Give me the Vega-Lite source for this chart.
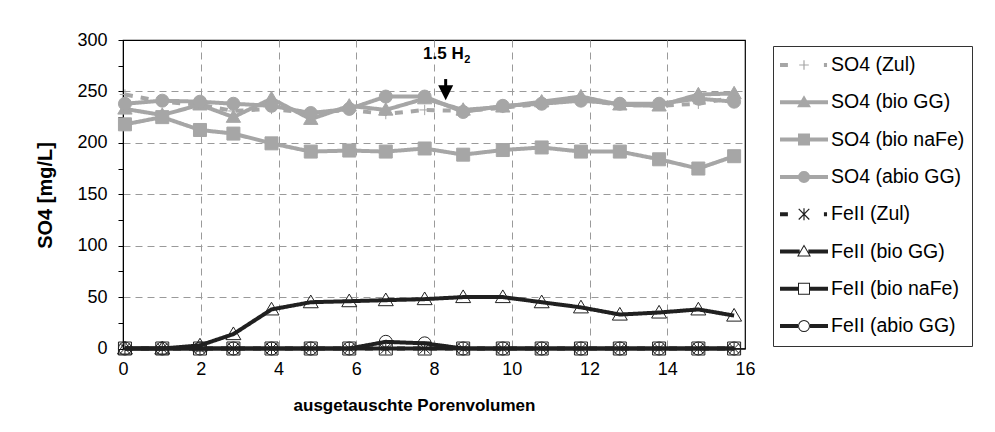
{
  "$schema": "https://vega.github.io/schema/vega-lite/v6.json",
  "width": 622,
  "height": 308.5,
  "autosize": {"type": "none"},
  "padding": {"left": 123, "top": 40, "right": 250, "bottom": 83.5},
  "background": "white",
  "config": {
    "font": "Liberation Sans",
    "view": {"stroke": "#000000", "strokeWidth": 1.2},
    "axis": {"domainColor": "#000000", "tickColor": "#000000", "labelColor": "#000000", "titleColor": "#000000", "labelFont": "Liberation Sans", "titleFont": "Liberation Sans"},
    "legend": {"symbolSize": 2304, "symbolStrokeWidth": 0, "symbolOpacity": 1, "clipHeight": 24, "rowPadding": 13.3, "padding": 7, "strokeColor": "#333333", "fillColor": "white", "labelFontSize": 19.5, "labelFont": "Liberation Sans", "labelColor": "#000000", "labelOffset": 3, "labelLimit": 300}
  },
  "datasets": {
    "main": [
      {"pv":0.05,"s":"SO4 (Zul)","v":247},{"pv":1.01,"s":"SO4 (Zul)","v":240},{"pv":1.98,"s":"SO4 (Zul)","v":237},{"pv":2.84,"s":"SO4 (Zul)","v":231},{"pv":3.82,"s":"SO4 (Zul)","v":233},{"pv":4.83,"s":"SO4 (Zul)","v":229},{"pv":5.82,"s":"SO4 (Zul)","v":232},{"pv":6.76,"s":"SO4 (Zul)","v":228},{"pv":7.76,"s":"SO4 (Zul)","v":232},{"pv":8.75,"s":"SO4 (Zul)","v":231},{"pv":9.77,"s":"SO4 (Zul)","v":234},{"pv":10.77,"s":"SO4 (Zul)","v":238},{"pv":11.78,"s":"SO4 (Zul)","v":242},{"pv":12.78,"s":"SO4 (Zul)","v":237},{"pv":13.79,"s":"SO4 (Zul)","v":236},{"pv":14.8,"s":"SO4 (Zul)","v":238},{"pv":15.72,"s":"SO4 (Zul)","v":244},
      {"pv":0.05,"s":"SO4 (bio GG)","v":233},{"pv":1.01,"s":"SO4 (bio GG)","v":227},{"pv":1.98,"s":"SO4 (bio GG)","v":237},{"pv":2.84,"s":"SO4 (bio GG)","v":225},{"pv":3.82,"s":"SO4 (bio GG)","v":243},{"pv":4.83,"s":"SO4 (bio GG)","v":223},{"pv":5.82,"s":"SO4 (bio GG)","v":236},{"pv":6.76,"s":"SO4 (bio GG)","v":232},{"pv":7.76,"s":"SO4 (bio GG)","v":243},{"pv":8.75,"s":"SO4 (bio GG)","v":232},{"pv":9.77,"s":"SO4 (bio GG)","v":235},{"pv":10.77,"s":"SO4 (bio GG)","v":240},{"pv":11.78,"s":"SO4 (bio GG)","v":245},{"pv":12.78,"s":"SO4 (bio GG)","v":237},{"pv":13.79,"s":"SO4 (bio GG)","v":236},{"pv":14.8,"s":"SO4 (bio GG)","v":247},{"pv":15.72,"s":"SO4 (bio GG)","v":248},
      {"pv":0.05,"s":"SO4 (bio naFe)","v":218},{"pv":1.01,"s":"SO4 (bio naFe)","v":225},{"pv":1.98,"s":"SO4 (bio naFe)","v":212.5},{"pv":2.84,"s":"SO4 (bio naFe)","v":209},{"pv":3.82,"s":"SO4 (bio naFe)","v":199.5},{"pv":4.83,"s":"SO4 (bio naFe)","v":191.5},{"pv":5.82,"s":"SO4 (bio naFe)","v":192.5},{"pv":6.76,"s":"SO4 (bio naFe)","v":191.5},{"pv":7.76,"s":"SO4 (bio naFe)","v":194.5},{"pv":8.75,"s":"SO4 (bio naFe)","v":188.5},{"pv":9.77,"s":"SO4 (bio naFe)","v":193},{"pv":10.77,"s":"SO4 (bio naFe)","v":195.5},{"pv":11.78,"s":"SO4 (bio naFe)","v":191.5},{"pv":12.78,"s":"SO4 (bio naFe)","v":191.5},{"pv":13.79,"s":"SO4 (bio naFe)","v":184},{"pv":14.8,"s":"SO4 (bio naFe)","v":175},{"pv":15.72,"s":"SO4 (bio naFe)","v":187},
      {"pv":0.05,"s":"SO4 (abio GG)","v":238},{"pv":1.01,"s":"SO4 (abio GG)","v":241},{"pv":1.98,"s":"SO4 (abio GG)","v":240},{"pv":2.84,"s":"SO4 (abio GG)","v":238},{"pv":3.82,"s":"SO4 (abio GG)","v":236},{"pv":4.83,"s":"SO4 (abio GG)","v":229},{"pv":5.82,"s":"SO4 (abio GG)","v":233},{"pv":6.76,"s":"SO4 (abio GG)","v":245},{"pv":7.76,"s":"SO4 (abio GG)","v":245},{"pv":8.75,"s":"SO4 (abio GG)","v":230},{"pv":9.77,"s":"SO4 (abio GG)","v":236},{"pv":10.77,"s":"SO4 (abio GG)","v":238},{"pv":11.78,"s":"SO4 (abio GG)","v":241},{"pv":12.78,"s":"SO4 (abio GG)","v":238},{"pv":13.79,"s":"SO4 (abio GG)","v":238},{"pv":14.8,"s":"SO4 (abio GG)","v":243},{"pv":15.72,"s":"SO4 (abio GG)","v":240},
      {"pv":0.05,"s":"FeII (Zul)","v":0},{"pv":1.01,"s":"FeII (Zul)","v":0},{"pv":1.98,"s":"FeII (Zul)","v":0},{"pv":2.84,"s":"FeII (Zul)","v":0},{"pv":3.82,"s":"FeII (Zul)","v":0},{"pv":4.83,"s":"FeII (Zul)","v":0},{"pv":5.82,"s":"FeII (Zul)","v":0},{"pv":6.76,"s":"FeII (Zul)","v":0},{"pv":7.76,"s":"FeII (Zul)","v":0},{"pv":8.75,"s":"FeII (Zul)","v":0},{"pv":9.77,"s":"FeII (Zul)","v":0},{"pv":10.77,"s":"FeII (Zul)","v":0},{"pv":11.78,"s":"FeII (Zul)","v":0},{"pv":12.78,"s":"FeII (Zul)","v":0},{"pv":13.79,"s":"FeII (Zul)","v":0},{"pv":14.8,"s":"FeII (Zul)","v":0},{"pv":15.72,"s":"FeII (Zul)","v":0},
      {"pv":0.05,"s":"FeII (bio GG)","v":0},{"pv":1.01,"s":"FeII (bio GG)","v":0},{"pv":1.98,"s":"FeII (bio GG)","v":3},{"pv":2.84,"s":"FeII (bio GG)","v":14},{"pv":3.82,"s":"FeII (bio GG)","v":38},{"pv":4.83,"s":"FeII (bio GG)","v":45},{"pv":5.82,"s":"FeII (bio GG)","v":46},{"pv":6.76,"s":"FeII (bio GG)","v":47},{"pv":7.76,"s":"FeII (bio GG)","v":48},{"pv":8.75,"s":"FeII (bio GG)","v":50},{"pv":9.77,"s":"FeII (bio GG)","v":50},{"pv":10.77,"s":"FeII (bio GG)","v":45},{"pv":11.78,"s":"FeII (bio GG)","v":40},{"pv":12.78,"s":"FeII (bio GG)","v":33},{"pv":13.79,"s":"FeII (bio GG)","v":35},{"pv":14.8,"s":"FeII (bio GG)","v":38},{"pv":15.72,"s":"FeII (bio GG)","v":32},
      {"pv":0.05,"s":"FeII (bio naFe)","v":0},{"pv":1.01,"s":"FeII (bio naFe)","v":0},{"pv":1.98,"s":"FeII (bio naFe)","v":0},{"pv":2.84,"s":"FeII (bio naFe)","v":0},{"pv":3.82,"s":"FeII (bio naFe)","v":0},{"pv":4.83,"s":"FeII (bio naFe)","v":0},{"pv":5.82,"s":"FeII (bio naFe)","v":0},{"pv":6.76,"s":"FeII (bio naFe)","v":0},{"pv":7.76,"s":"FeII (bio naFe)","v":0},{"pv":8.75,"s":"FeII (bio naFe)","v":0},{"pv":9.77,"s":"FeII (bio naFe)","v":0},{"pv":10.77,"s":"FeII (bio naFe)","v":0},{"pv":11.78,"s":"FeII (bio naFe)","v":0},{"pv":12.78,"s":"FeII (bio naFe)","v":0},{"pv":13.79,"s":"FeII (bio naFe)","v":0},{"pv":14.8,"s":"FeII (bio naFe)","v":0},{"pv":15.72,"s":"FeII (bio naFe)","v":0},
      {"pv":0.05,"s":"FeII (abio GG)","v":0},{"pv":1.01,"s":"FeII (abio GG)","v":0},{"pv":1.98,"s":"FeII (abio GG)","v":0},{"pv":2.84,"s":"FeII (abio GG)","v":0},{"pv":3.82,"s":"FeII (abio GG)","v":0},{"pv":4.83,"s":"FeII (abio GG)","v":0},{"pv":5.82,"s":"FeII (abio GG)","v":0},{"pv":6.76,"s":"FeII (abio GG)","v":6.5},{"pv":7.76,"s":"FeII (abio GG)","v":5},{"pv":8.75,"s":"FeII (abio GG)","v":0},{"pv":9.77,"s":"FeII (abio GG)","v":0},{"pv":10.77,"s":"FeII (abio GG)","v":0},{"pv":11.78,"s":"FeII (abio GG)","v":0},{"pv":12.78,"s":"FeII (abio GG)","v":0},{"pv":13.79,"s":"FeII (abio GG)","v":0},{"pv":14.8,"s":"FeII (abio GG)","v":0},{"pv":15.72,"s":"FeII (abio GG)","v":0}
    ]
  },
  "encoding": {
    "x": {
      "field": "pv", "type": "quantitative",
      "scale": {"domain": [0, 16], "nice": false, "zero": false},
      "axis": {
        "title": "ausgetauschte Porenvolumen",
        "values": [0, 2, 4, 6, 8, 10, 12, 14, 16],
        "labelFontSize": 18, "labelPadding": 12, "ticks": false, "labelFlush": false,
        "titleFontSize": 17, "titleFontWeight": "bold",
        "titleX": 291, "titleY": 57, "titleAlign": "center", "titleBaseline": "middle",
        "grid": true, "gridColor": "#9a9a9a", "gridDash": [7, 5], "gridWidth": 1,
        "gridOpacity": {"condition": {"test": "datum.value > 0 && datum.value < 16", "value": 1}, "value": 0}
      }
    },
    "y": {
      "field": "v", "type": "quantitative",
      "scale": {"domain": [0, 300], "nice": false},
      "axis": {
        "title": "SO4 [mg/L]",
        "values": [0, 25, 50, 75, 100, 125, 150, 175, 200, 225, 250, 275, 300],
        "labelExpr": "datum.value % 50 === 0 ? datum.label : ''",
        "labelFontSize": 18, "labelPadding": 11, "tickSize": 5, "labelFlush": false,
        "titleFontSize": 20, "titleFontWeight": "bold",
        "titleX": -78, "titleY": 155, "titleAngle": -90, "titleAlign": "center", "titleBaseline": "middle",
        "grid": true, "gridColor": "#9a9a9a", "gridDash": [7, 5], "gridWidth": 1,
        "gridOpacity": {"condition": {"test": "datum.value % 50 === 0 && datum.value > 0 && datum.value < 300", "value": 1}, "value": 0}
      }
    }
  },
  "layer": [
    {
      "data": {"name": "main"},
      "mark": {"type": "line", "strokeWidth": 4},
      "encoding": {
        "color": {
          "field": "s", "type": "nominal", "legend": null,
          "scale": {
            "domain": ["SO4 (Zul)", "SO4 (bio GG)", "SO4 (bio naFe)", "SO4 (abio GG)", "FeII (Zul)", "FeII (bio GG)", "FeII (bio naFe)", "FeII (abio GG)"],
            "range": ["#a6a6a6", "#a6a6a6", "#a6a6a6", "#a6a6a6", "#202020", "#202020", "#202020", "#202020"]
          }
        },
        "strokeDash": {
          "field": "s", "type": "nominal", "legend": null,
          "scale": {
            "domain": ["SO4 (Zul)", "SO4 (bio GG)", "SO4 (bio naFe)", "SO4 (abio GG)", "FeII (Zul)", "FeII (bio GG)", "FeII (bio naFe)", "FeII (abio GG)"],
            "range": [[8, 8], [1, 0], [1, 0], [1, 0], [8, 8], [1, 0], [1, 0], [1, 0]]
          }
        }
      }
    },
    {
      "data": {"name": "main"},
      "mark": {"type": "point", "filled": false, "size": 169, "strokeWidth": 1, "opacity": 1},
      "encoding": {
        "shape": {
          "field": "s", "type": "nominal", "legend": null,
          "scale": {
            "domain": ["SO4 (Zul)", "SO4 (bio GG)", "SO4 (bio naFe)", "SO4 (abio GG)", "FeII (Zul)", "FeII (bio GG)", "FeII (bio naFe)", "FeII (abio GG)"],
            "range": ["M-0.8,0H0.8M0,-0.8V0.8", "M0,-1.1L1.1,0.8H-1.1Z", "square", "circle", "M0,-0.9V0.9M-0.8,-0.8L0.8,0.8M-0.8,0.8L0.8,-0.8", "M0,-1.1L1.15,0.85H-1.15Z", "square", "circle"]
          }
        },
        "fill": {
          "field": "s", "type": "nominal", "legend": null,
          "scale": {
            "domain": ["SO4 (Zul)", "SO4 (bio GG)", "SO4 (bio naFe)", "SO4 (abio GG)", "FeII (Zul)", "FeII (bio GG)", "FeII (bio naFe)", "FeII (abio GG)"],
            "range": ["transparent", "#a6a6a6", "#a6a6a6", "#a6a6a6", "transparent", "transparent", "transparent", "transparent"]
          }
        },
        "stroke": {
          "field": "s", "type": "nominal", "legend": null,
          "scale": {
            "domain": ["SO4 (Zul)", "SO4 (bio GG)", "SO4 (bio naFe)", "SO4 (abio GG)", "FeII (Zul)", "FeII (bio GG)", "FeII (bio naFe)", "FeII (abio GG)"],
            "range": ["#a6a6a6", "#a6a6a6", "#a6a6a6", "#a6a6a6", "#202020", "#202020", "#202020", "#202020"]
          }
        }
      }
    },
    {
      "data": {"name": "main"},
      "mark": {"type": "point", "filled": true, "opacity": 0, "strokeWidth": 0},
      "encoding": {
        "shape": {
          "field": "s", "type": "nominal",
          "legend": {"title": null, "orient": "none", "legendX": 650, "legendY": 6},
          "scale": {
            "domain": ["SO4 (Zul)", "SO4 (bio GG)", "SO4 (bio naFe)", "SO4 (abio GG)", "FeII (Zul)", "FeII (bio GG)", "FeII (bio naFe)", "FeII (abio GG)"],
            "range": [
              "M-1,-0.083H-0.67V0.083H-1Z M0.83,-0.083H0.96V0.083H0.83Z M-0.2,-0.025H0.2V0.025H-0.2Z M-0.025,-0.2H0.025V0.2H-0.025Z",
              "M-1,-0.083H1V0.083H-1Z M0,-0.29L0.29,0.21H-0.29Z",
              "M-1,-0.083H1V0.083H-1Z M-0.25,-0.25H0.25V0.25H-0.25Z",
              "M-1,-0.083H1V0.083H-1Z M0.25,0L0.231,0.096L0.177,0.177L0.096,0.231L0,0.25L-0.096,0.231L-0.177,0.177L-0.231,0.096L-0.25,0L-0.231,-0.096L-0.177,-0.177L-0.096,-0.231L0,-0.25L0.096,-0.231L0.177,-0.177L0.231,-0.096Z",
              "M-1,-0.083H-0.67V0.083H-1Z M0.83,-0.083H0.96V0.083H0.83Z M-0.025,-0.25H0.025V0.25H-0.025Z M-0.238,-0.202L-0.202,-0.238L0.238,0.202L0.202,0.238Z M0.202,-0.238L0.238,-0.202L-0.202,0.238L-0.238,0.202Z",
              "M-1,-0.083H-0.18V0.083H-1Z M0.18,-0.083H1V0.083H0.18Z M0,-0.29L0.29,0.21H-0.29Z M0,-0.205L-0.217,0.168H0.217Z",
              "M-1,-0.083H-0.25V0.083H-1Z M0.25,-0.083H1V0.083H0.25Z M-0.25,-0.25H0.25V0.25H-0.25Z M-0.208,-0.208V0.208H0.208V-0.208Z",
              "M-1,-0.083H-0.25V0.083H-1Z M0.25,-0.083H1V0.083H0.25Z M0.25,0L0.231,0.096L0.177,0.177L0.096,0.231L0,0.25L-0.096,0.231L-0.177,0.177L-0.231,0.096L-0.25,0L-0.231,-0.096L-0.177,-0.177L-0.096,-0.231L0,-0.25L0.096,-0.231L0.177,-0.177L0.231,-0.096Z M0.208,0L0.192,-0.08L0.147,-0.147L0.08,-0.192L0,-0.208L-0.08,-0.192L-0.147,-0.147L-0.192,-0.08L-0.208,0L-0.192,0.08L-0.147,0.147L-0.08,0.192L0,0.208L0.08,0.192L0.147,0.147L0.192,0.08Z"
            ]
          }
        },
        "fill": {
          "field": "s", "type": "nominal",
          "legend": {"title": null, "orient": "none", "legendX": 650, "legendY": 6},
          "scale": {
            "domain": ["SO4 (Zul)", "SO4 (bio GG)", "SO4 (bio naFe)", "SO4 (abio GG)", "FeII (Zul)", "FeII (bio GG)", "FeII (bio naFe)", "FeII (abio GG)"],
            "range": ["#a6a6a6", "#a6a6a6", "#a6a6a6", "#a6a6a6", "#202020", "#202020", "#202020", "#202020"]
          }
        }
      }
    },
    {
      "data": {"values": [{"pv": 8.3, "v": 262, "v2": 254}]},
      "mark": {"type": "rule", "color": "#000000", "strokeWidth": 3},
      "encoding": {"y2": {"field": "v2"}}
    },
    {
      "data": {"values": [{"pv": 8.3, "v": 248.8}]},
      "mark": {"type": "point", "shape": "M-1,-1H1L0,1Z", "size": 225, "filled": true, "color": "#000000", "opacity": 1}
    },
    {
      "data": {"values": [{"pv": 7.72, "v": 286, "t": "1.5 H"}]},
      "mark": {"type": "text", "fontSize": 17, "fontWeight": "bold", "color": "#000000", "align": "left", "baseline": "middle"},
      "encoding": {"text": {"field": "t"}}
    },
    {
      "data": {"values": [{"pv": 8.78, "v": 281, "t": "2"}]},
      "mark": {"type": "text", "fontSize": 11, "fontWeight": "bold", "color": "#000000", "align": "left", "baseline": "middle"},
      "encoding": {"text": {"field": "t"}}
    }
  ],
  "resolve": {"scale": {"shape": "independent", "fill": "independent"}}
}
